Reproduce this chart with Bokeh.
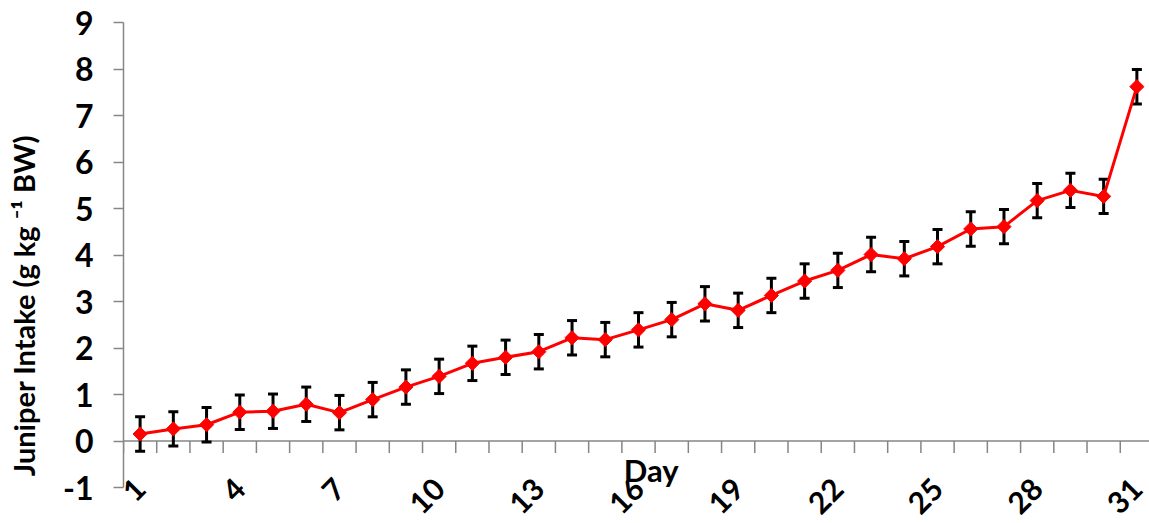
import numpy as np
from bokeh.plotting import figure
from bokeh.models import (Range1d, FixedTicker, ColumnDataSource, Whisker, TeeHead,
                          Label, Span, LinearAxis)
from bokeh.core.properties import value
from bokeh.embed import file_html
from bokeh.resources import INLINE

# Daily juniper intake (g kg-1 BW) with standard errors
days = list(range(1, 32))
intake = [0.15, 0.26, 0.35, 0.62, 0.64, 0.79, 0.61, 0.89, 1.16, 1.39,
          1.67, 1.80, 1.92, 2.22, 2.18, 2.39, 2.61, 2.95, 2.81, 3.13,
          3.44, 3.67, 4.01, 3.92, 4.18, 4.56, 4.61, 5.17, 5.39, 5.26,
          7.62]
sem = [0.37, 0.37, 0.37, 0.37, 0.37, 0.37, 0.37, 0.37, 0.37, 0.37,
       0.37, 0.37, 0.37, 0.37, 0.37, 0.37, 0.37, 0.37, 0.37, 0.37,
       0.37, 0.37, 0.37, 0.37, 0.37, 0.37, 0.37, 0.37, 0.37, 0.37,
       0.37]

x_tick_days = [1, 4, 7, 10, 13, 16, 19, 22, 25, 28, 31]
x_tick_labels = ["1", "4", "7", "10", "13", "16", "19", "22", "25", "28", "31"]
y_ticks = [-1, 0, 1, 2, 3, 4, 5, 6, 7, 8, 9]
y_min, y_max = -1, 9

FONT = "Lato"
AXIS_GREY = "#868686"

src = ColumnDataSource(dict(
    day=days,
    intake=intake,
    lower=[v - e for v, e in zip(intake, sem)],
    upper=[v + e for v, e in zip(intake, sem)],
))

# the frame runs down to the bottom edge so the slanted day labels
# under the -1 line stay visible; the y axis itself stops at -1
px_per_unit = 465 / (y_max - y_min)
p = figure(width=1149, height=523,
           x_range=Range1d(0.5, 31.38),
           y_range=Range1d(y_min - 36 / px_per_unit, y_max),
           x_axis_location=None,
           output_backend="svg", toolbar_location=None,
           min_border_left=123, min_border_right=0,
           min_border_top=22, min_border_bottom=0)
p.outline_line_color = None
p.xgrid.visible = False
p.ygrid.visible = False
p.background_fill_color = "white"
p.border_fill_color = "white"

# y axis
ax = p.yaxis[0]
ax.bounds = (y_min, y_max)
ax.ticker = FixedTicker(ticks=y_ticks)
ax.major_label_overrides = {t: str(t) for t in y_ticks}
ax.axis_line_color = AXIS_GREY
ax.axis_line_width = 1.5
ax.major_tick_line_color = AXIS_GREY
ax.major_tick_line_width = 1.5
ax.major_tick_out = 10
ax.major_tick_in = 0
ax.minor_tick_line_color = None
ax.major_label_text_font = FONT
ax.major_label_text_font_style = "bold"
ax.major_label_text_font_size = "32px"
ax.major_label_text_color = "black"
ax.major_label_standoff = 20

# outer axis carrying only the title; the trailing em spaces move the
# centred title down toward the lower part of the value axis
title_axis = LinearAxis(ticker=FixedTicker(ticks=[]),
                        axis_line_color=None, major_tick_line_color=None,
                        minor_tick_line_color=None,
                        major_label_text_font_size="0px",
                        major_tick_out=0, major_label_standoff=0,
                        axis_label="Juniper Intake (g kg \u207b\u00b9 BW)\u2003\u2003\u2003",
                        axis_label_standoff=20,
                        axis_label_text_font=FONT,
                        axis_label_text_font_style="bold",
                        axis_label_text_font_size="29px",
                        axis_label_text_color="black")
p.add_layout(title_axis, "left")

# horizontal axis line at zero with category ticks
p.add_layout(Span(location=0, dimension="width", line_color=AXIS_GREY,
                  line_width=1.5, level="underlay"))
bounds = [d - 0.5 for d in days] + [days[-1] + 0.5]
p.segment(x0=bounds, y0=0, x1=bounds, y1=-12 / px_per_unit,
          line_color=AXIS_GREY, line_width=1.5)

# slanted day labels along the bottom
p.text(x=x_tick_days, y=y_min, text=x_tick_labels,
       angle=np.pi / 4, text_align="right", text_baseline="middle",
       x_offset=0, y_offset=-4,
       text_font=value(FONT), text_font_style="bold",
       text_font_size="30px", text_color="black")

# error bars
whisk = Whisker(source=src, base="day", upper="upper", lower="lower",
                line_color="black", line_width=3, level="underlay",
                upper_head=TeeHead(size=10, line_color="black", line_width=3),
                lower_head=TeeHead(size=10, line_color="black", line_width=3))
p.add_layout(whisk)

# intake series
p.line("day", "intake", source=src, line_color="#FF0000", line_width=3)
p.scatter("day", "intake", source=src, marker="square", angle=np.pi / 4,
          size=10, fill_color="#FF0000", line_color="#FF0000")

p.add_layout(Label(x=16.38, y=-0.63, text="Day", text_align="center",
                   text_baseline="middle", text_font=FONT, text_font_style="bold",
                   text_font_size="31px", text_color="black"))

open("out.html", "w").write(file_html(p, INLINE))
